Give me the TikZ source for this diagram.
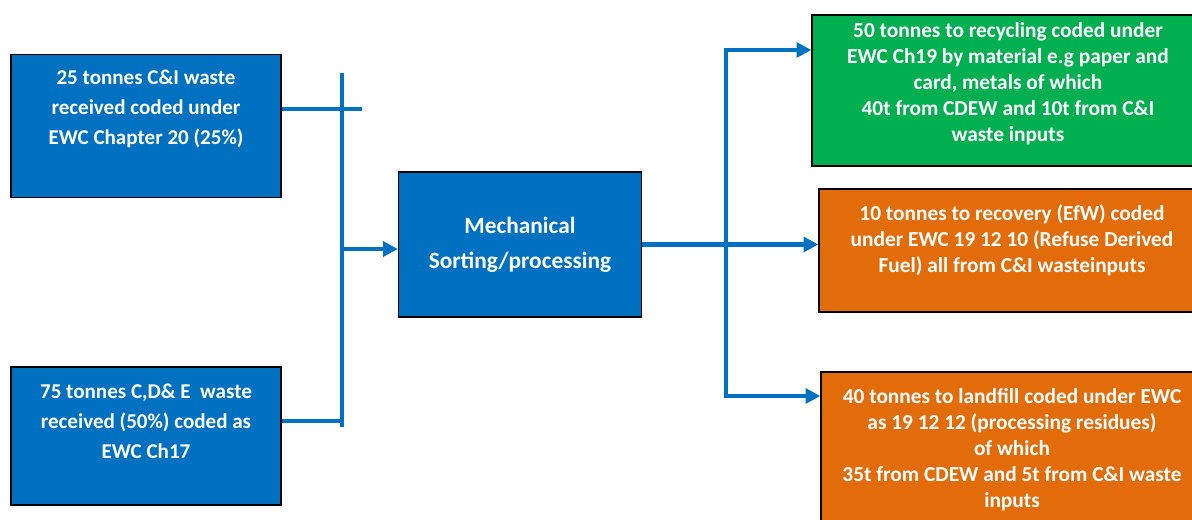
\documentclass[tikz,border=0pt]{standalone}
\usepackage{fontspec}
\setmainfont{Carlito}
\usepackage{tikz}
\usetikzlibrary{arrows.meta,positioning,calc}
\definecolor{flowblue}{RGB}{0,112,192}
\definecolor{recgreen}{RGB}{0,176,80}
\definecolor{reforange}{RGB}{226,107,10}

\begin{document}
\begin{tikzpicture}[
		x=0.75pt, y=-0.75pt,
		>={Triangle[length=11pt,width=11pt]},
		flow/.style={draw=flowblue, line width=3.6pt},
		wastebox/.style={draw=black, line width=1pt, inner sep=0pt},
		boxtext/.style={text=white, align=center, font=\bfseries\fontsize{15.8}{22.5}\selectfont},
		outtext/.style={text=white, align=center, font=\bfseries\fontsize{16}{19.5}\selectfont}
		]
		
		\useasboundingbox (0,0) rectangle (1192,519);
		\clip (0,0) rectangle (1192,519);
		
		% --------------------------------------------------
		% Inputs
		% --------------------------------------------------
		\node[wastebox, fill=flowblue, minimum width=202.5pt, minimum height=107.25pt] (in25) at (146,126) {};
		\node[boxtext] (in25txt) at (146,109) {25 tonnes C\&I waste\\received coded under\\EWC Chapter 20 (25\%)};
		
		\node[wastebox, fill=flowblue, minimum width=202.5pt, minimum height=103.5pt] (in75) at (146,436) {};
		\node[boxtext] (in75txt) at (146,421) {75 tonnes C,D\& E\ \ waste\\received (50\%) coded as\\EWC Ch17};
		
		% --------------------------------------------------
		% Processing
		% --------------------------------------------------
		\node[wastebox, fill=flowblue, minimum width=182.25pt, minimum height=108.75pt,
		text=white, align=center, font=\bfseries\fontsize{17.5}{26}\selectfont] (mech) at (520,244.5) {Mechanical\\Sorting/processing};
		
		% --------------------------------------------------
		% Outputs
		% --------------------------------------------------
		\node[wastebox, fill=recgreen, minimum width=294pt, minimum height=113.25pt] (rec) at (1008,90.5) {};
		\node[outtext] (rectxt) at (1008,84) {50 tonnes to recycling coded under\\EWC Ch19 by material e.g paper and\\card, metals of which\\40t from CDEW and 10t from C\&I\\waste inputs};
		
		\node[wastebox, fill=reforange, minimum width=289.5pt, minimum height=92.25pt] (efw) at (1012,250.5) {};
		\node[outtext] (efwtxt) at (1012,240) {10 tonnes to recovery (EfW) coded\\under EWC 19 12 10 (Refuse Derived\\Fuel) all from C\&I wasteinputs};
		
		\node[wastebox, fill=reforange, minimum width=286.5pt, minimum height=120pt] (lf) at (1012,452) {};
		\node[outtext] (lftxt) at (1012,450) {40 tonnes to landfill coded under EWC\\as 19 12 12 (processing residues)\\of which\\35t from CDEW and 5t from C\&I waste\\inputs};
		
		% --------------------------------------------------
		% Connectors
		% --------------------------------------------------
		\coordinate (barTop) at (342,73);
		\coordinate (barBot) at (342,427);
		\coordinate (splitTop) at (726,50);
		\coordinate (splitBot) at (726,396);
		
		\draw[flow] (barTop) -- (barBot);
		\draw[flow] (in25txt -| in25.east) -- ++(80,0);
		\draw[flow] (in75txt -| in75.east) -- (in75txt -| barTop);
		\draw[flow, ->] ([yshift=-3.4pt]mech.west -| barTop) -- ([yshift=-3.4pt]mech.west);
		
		\draw[flow, ->] (mech.east) -- (mech.east -| efw.west);
		\draw[flow, <->] (splitTop -| rec.west) -- (splitTop) -- (splitBot) -- (splitBot -| lf.west);
		
\end{tikzpicture}
\end{document}
